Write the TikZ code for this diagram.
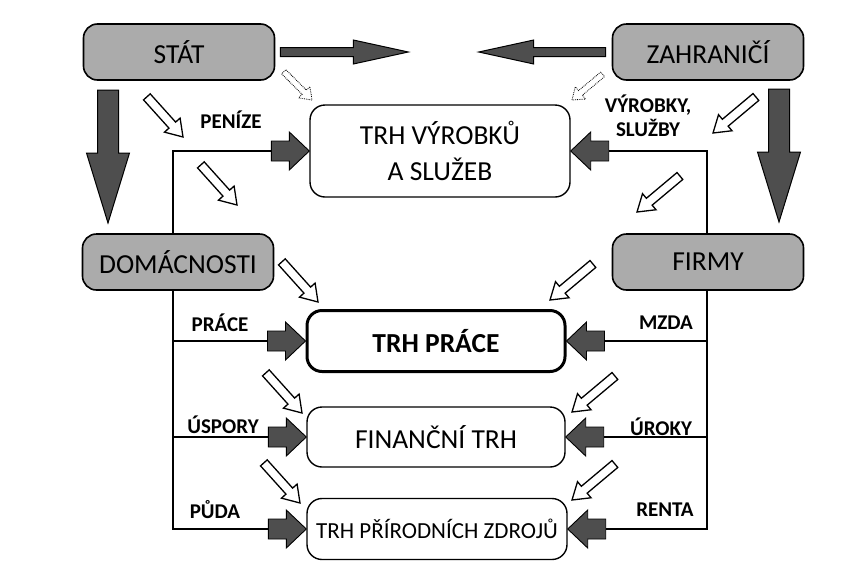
\documentclass[tikz,border=0pt]{standalone}
\usepackage{fontspec}
\setmainfont{Carlito}
\usetikzlibrary{positioning}

\definecolor{boxgray}{HTML}{ABABAB}
\definecolor{arrgray}{HTML}{4E4E4E}

\tikzset{
  % block arrow, tip at the origin pointing along +x
  % #1 length, #2 half shaft, #3 half head, #4 head length
  pics/blk/.style n args={4}{code={
    \path[pic actions] (0,0) -- (-#4,#3) -- (-#4,#2) -- (-#1,#2)
      -- (-#1,-#2) -- (-#4,-#2) -- (-#4,-#3) -- cycle;
  }}
}

\begin{document}
\begin{tikzpicture}[
  x=1pt, y=-1pt,
  sector/.style={rectangle, rounded corners=14pt, draw=black, line width=1.6pt, fill=boxgray,
                 minimum width=191pt, minimum height=56pt, font=\fontsize{27.5}{30}\selectfont},
  market/.style={rectangle, rounded corners=15pt, draw=black, line width=1.4pt, fill=white,
                 minimum width=258pt, minimum height=61pt, align=center, font=\fontsize{27.5}{36}\selectfont},
  lbl/.style={font=\fontsize{21}{24}\selectfont\bfseries, align=center},
  conn/.style={draw=black, line width=1.3pt},
  darkarr/.style={draw=black, fill=arrgray, line width=0.9pt},
  bigarr/.style={draw=black, fill=arrgray, line width=1pt},
  hollow/.style={draw=black, fill=white, line width=1.3pt},
  thinhollow/.style={draw=black, fill=white, line width=0.8pt, densely dotted}
]
  \useasboundingbox[fill=white] (0,0) rectangle (842,579);

  % sectors
  \node[sector] (stat) at (179,52) {STÁT};
  \node[sector] (zahr) at (708,52) {ZAHRANIČÍ};
  \node[sector] (dom) at (178,262) {DOMÁCNOSTI};
  \node[sector] (firmy) at (708,262) {FIRMY};

  % markets
  \node[market, minimum width=260pt, minimum height=92pt] (vyr) at (440,151) {TRH VÝROBKŮ\\A SLUŽEB};
  \node[market, line width=3pt, font=\fontsize{27.5}{30}\selectfont\bfseries] (prace) at (436,341) {TRH PRÁCE};
  \node[market, minimum height=60pt] (fin) at (436,437) {FINANČNÍ TRH};
  \node[market, minimum width=260pt, font=\fontsize{23}{26}\selectfont] (zdr) at (437,529) {TRH PŘÍRODNÍCH ZDROJŮ};

  % big arrows
  \pic[bigarr] at ([xshift=133]stat.east) {blk={128}{4.5}{12}{55}};
  \pic[bigarr, rotate=180] at ([xshift=-133]zahr.west) {blk={127}{4.5}{12}{55}};
  \pic[bigarr, rotate=-90] at (108,223) {blk={133}{10.5}{21.5}{70}};
  \pic[bigarr, rotate=-90] at (779,222) {blk={133}{10.5}{21.5}{70}};

  % trunks
  \coordinate (tl) at (173,0);
  \coordinate (tr) at (707,0);
  \draw[conn] (dom.north -| tl) |- ([xshift=-38]vyr.west);
  \draw[conn] (firmy.north -| tr) |- ([xshift=38]vyr.east);
  \draw[conn] (dom.south -| tl) |- ([xshift=-38]zdr.west);
  \draw[conn] (firmy.south -| tr) |- ([xshift=38]zdr.east);
  \foreach \m in {prace, fin} {
    \draw[conn] (tl |- \m.west) -- ([xshift=-38]\m.west);
    \draw[conn] (tr |- \m.east) -- ([xshift=38]\m.east);
  }

  % dark arrows into the markets
  \foreach \m in {vyr, prace, fin, zdr} {
    \pic[darkarr] at (\m.west) {blk={38}{10}{19}{20}};
    \pic[darkarr, rotate=180] at (\m.east) {blk={38}{10}{19}{20}};
  }

  % flow labels
  \node[lbl] (penize) at (231,120) {PENÍZE};
  \node[lbl] (vyrobky) at (648,116) {VÝROBKY,\\SLUŽBY};
  \node[lbl] (praceL) at (220,323) {PRÁCE};
  \node[lbl] (uspory) at (223,425) {ÚSPORY};
  \node[lbl] (puda) at (215,510) {PŮDA};
  \node[lbl] (mzda) at (666,323) {MZDA};
  \node[lbl] (uroky) at (661,427) {ÚROKY};
  \node[lbl] (renta) at (665,510) {RENTA};

  % money flows (hollow arrows)
  \pic[thinhollow, rotate=-45] at (312,100) {blk={40}{3}{8}{11}};
  \pic[thinhollow, rotate=-140] at (572,100) {blk={40}{3}{8}{11}};
  \foreach \p in {(183,137), (237,205), (318,302), (302,413), (300,503)}
    \pic[hollow, rotate=-48] at \p {blk={54}{4.5}{10.5}{16}};
  \foreach \p in {(713,133), (637,212), (550,300), (572,412), (572,500)}
    \pic[hollow, rotate=-140] at \p {blk={56}{4.5}{10.5}{16}};
\end{tikzpicture}
\end{document}
